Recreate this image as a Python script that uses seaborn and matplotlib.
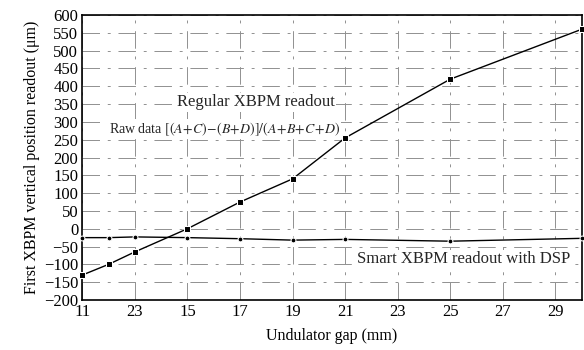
import numpy as np
import pandas as pd
import matplotlib
matplotlib.use("Agg")
import matplotlib.pyplot as plt
import seaborn as sns

# gap positions (mm) and readouts (um)
gap_regular = [11, 12, 13, 15, 17, 19, 21, 25, 30]
readout_regular = [-130, -100, -65, 0, 75, 140, 255, 420, 560]

gap_smart = [11, 12, 13, 15, 17, 19, 21, 25, 30]
readout_smart = [-25, -25, -23, -25, -28, -32, -30, -35, -27]

# the original has "23" printed where 13 should be
xtick_values = [11, 13, 15, 17, 19, 21, 23, 25, 27, 29]
xtick_labels = ["11", "23", "15", "17", "19", "21", "23", "25", "27", "29"]
ytick_values = list(range(-200, 601, 50))

df = pd.concat([
    pd.DataFrame({"gap": gap_regular, "readout": readout_regular, "series": "regular"}),
    pd.DataFrame({"gap": gap_smart, "readout": readout_smart, "series": "smart"}),
])

sns.set_theme(style="white")
plt.rcParams["font.family"] = ["Liberation Serif", "DejaVu Serif"]
plt.rcParams["mathtext.fontset"] = "stix"

fig = plt.figure(figsize=(5.84, 3.5), dpi=100)
ax = fig.add_axes([0.141, 0.143, 0.855, 0.814])

sns.lineplot(data=df, x="gap", y="readout", hue="series", style="series",
             palette={"regular": "black", "smart": "black"},
             markers={"regular": "s", "smart": "o"}, dashes=False,
             markersize=4.5, linewidth=1.0, legend=False, ax=ax)
for line in ax.lines:
    line.set_clip_on(False)
    line.set_zorder(3)
# make the smart markers smaller dots
for line in ax.lines[1:]:
    line.set_markersize(3.5)

ax.set_xlim(11, 30)
ax.set_ylim(-200, 600)
ax.set_xticks(xtick_values)
ax.set_xticklabels(xtick_labels)
ax.set_yticks(ytick_values)
ax.tick_params(axis="both", length=0, labelsize=12, colors="black", pad=3)

ax.grid(True, color="#909090", linestyle=(0, (18, 8, 3, 8)), linewidth=0.7)
for s in ax.spines.values():
    s.set_color("black")
    s.set_linewidth(1.2)

ax.set_xlabel("Undulator gap (mm)", fontsize=11.5, color="black", labelpad=6)
ax.set_ylabel("First XBPM vertical position readout (\u03bcm)", fontsize=11.5,
              color="black", labelpad=3)

box = dict(facecolor="white", edgecolor="none", pad=1)
ax.text(17.6, 355, "Regular XBPM readout", fontsize=12, ha="center", va="center",
        bbox=box, zorder=2)
ax.text(16.4, 280, r"Raw data $[(A\!+\!C)\!-\!(B\!+\!D)]/(A\!+\!B\!+\!C\!+\!D)$",
        fontsize=10, ha="center", va="center", bbox=box, zorder=2)
ax.text(25.5, -85, "Smart XBPM readout with DSP", fontsize=12, ha="center", va="center",
        bbox=box, zorder=2)

fig.savefig("out.png", dpi=100)
